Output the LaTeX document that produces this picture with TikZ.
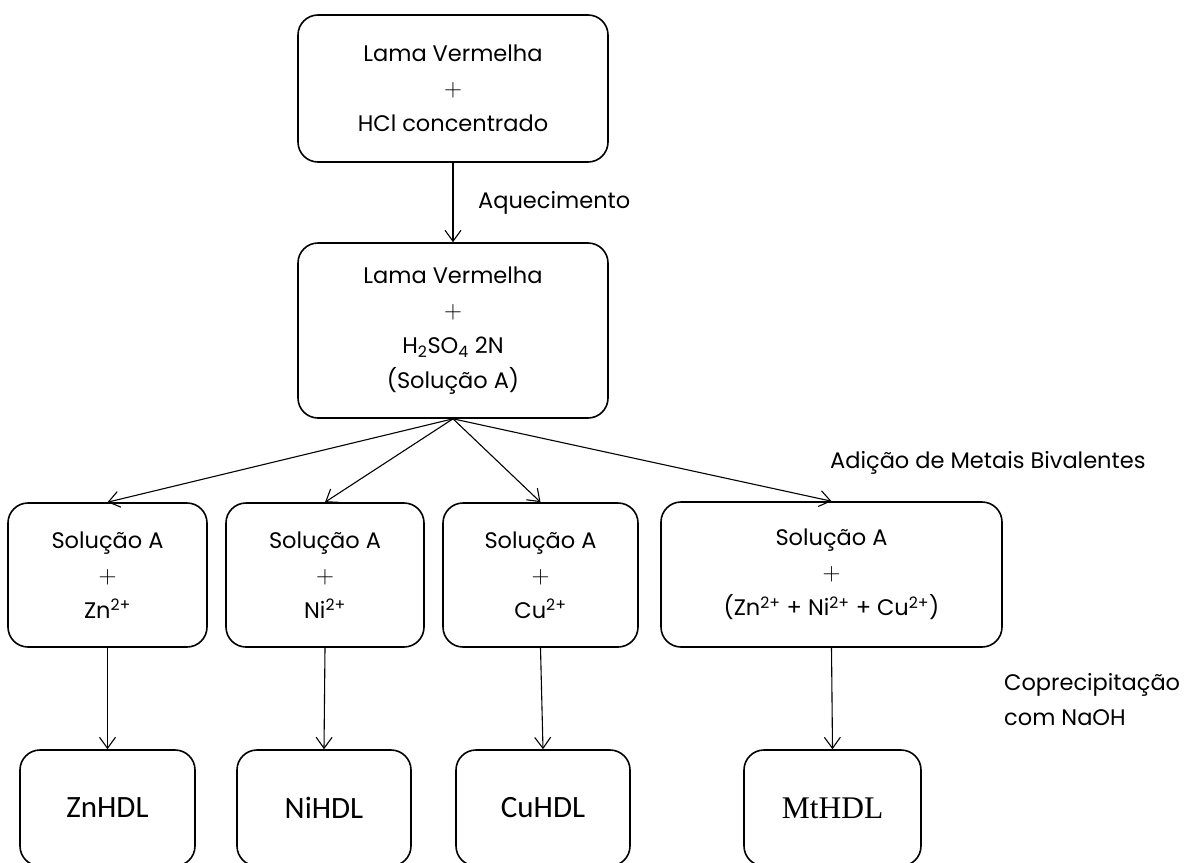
\documentclass[tikz,border=0pt]{standalone}
\usepackage{fontspec}
\usetikzlibrary{arrows.meta}
\newfontfamily\calibfont{Carlito}
\newfontfamily\tnrfont{Liberation Serif}
\newfontfamily\gothicfont{Poppins}
\newcommand\gothic{\gothicfont}
\newcommand\bigplus{{\fontsize{25}{35}\selectfont$+$}}
\begin{document}
\begin{tikzpicture}[x=1pt,y=-1pt,
  box/.style={draw, line width=1.6pt, rounded corners=20pt, align=center, inner sep=0pt,
    font={\gothic\fontsize{22.5}{35}\selectfont}},
  endbox/.style={box, minimum height=116pt},
  arr/.style={-{Straight Barb[length=11pt,width=16pt]}, line width=1.1pt},
  lbl/.style={inner sep=0pt, align=left, font={\gothic\fontsize{22.5}{35}\selectfont}}]
\useasboundingbox (0,0) rectangle (1185,862);
% top boxes
\node[box, minimum width=310pt, minimum height=147pt] (top) at (453,88.5)
  {Lama Vermelha\\\bigplus\\HCl concentrado};
\node[box, minimum width=310pt, minimum height=175pt] (sol) at (453,330.5)
  {Lama Vermelha\\\bigplus\\H\textsubscript{2}SO\textsubscript{4} 2N\\(Solução A)};
% middle row
\node[box, minimum width=199pt, minimum height=144pt] (A) at (107.5,575)
  {Solução A\\\bigplus\\Zn\textsuperscript{2+}};
\node[box, minimum width=198pt, minimum height=144pt] (B) at (325,575)
  {Solução A\\\bigplus\\Ni\textsuperscript{2+}};
\node[box, minimum width=195pt, minimum height=144pt] (C) at (540.5,575)
  {Solução A\\\bigplus\\Cu\textsuperscript{2+}};
\node[box, minimum width=341pt, minimum height=145pt] (D) at (831.5,574.5)
  {Solução A\\\bigplus\\(Zn\textsuperscript{2+} + Ni\textsuperscript{2+} + Cu\textsuperscript{2+})};
% bottom row
\node[endbox, minimum width=175pt, font={\calibfont\fontsize{31}{36}\selectfont}] (Zn) at (107.5,808) {ZnHDL};
\node[endbox, minimum width=174pt, font={\calibfont\fontsize{31}{36}\selectfont}] (Ni) at (324,808) {NiHDL};
\node[endbox, minimum width=174pt, font={\calibfont\fontsize{31}{36}\selectfont}] (Cu) at (543,808) {CuHDL};
\node[endbox, minimum width=177pt, font={\tnrfont\fontsize{31.5}{36}\selectfont}] (Mt) at (832.5,808) {MtHDL};
% labels
\node[lbl, anchor=west] (aq) at (478,203) {Aquecimento};
\node[lbl, anchor=west] (ad) at (830,463) {Adição de Metais Bivalentes};
\node[lbl, anchor=west] (co) at (1004,699.5) {Coprecipitação\\com NaOH};
% connectors
\draw[arr] (top.south) -- (sol.north);
\draw[arr] (sol.south) -- (A.north);
\draw[arr] (sol.south) -- (B.north);
\draw[arr] (sol.south) -- (C.north);
\draw[arr] (sol.south) -- (D.north);
\draw[arr] (A.south) -- (Zn.north);
\draw[arr] (B.south) -- (Ni.north);
\draw[arr] (C.south) -- (Cu.north);
\draw[arr] (D.south) -- (Mt.north);
\end{tikzpicture}
\end{document}
